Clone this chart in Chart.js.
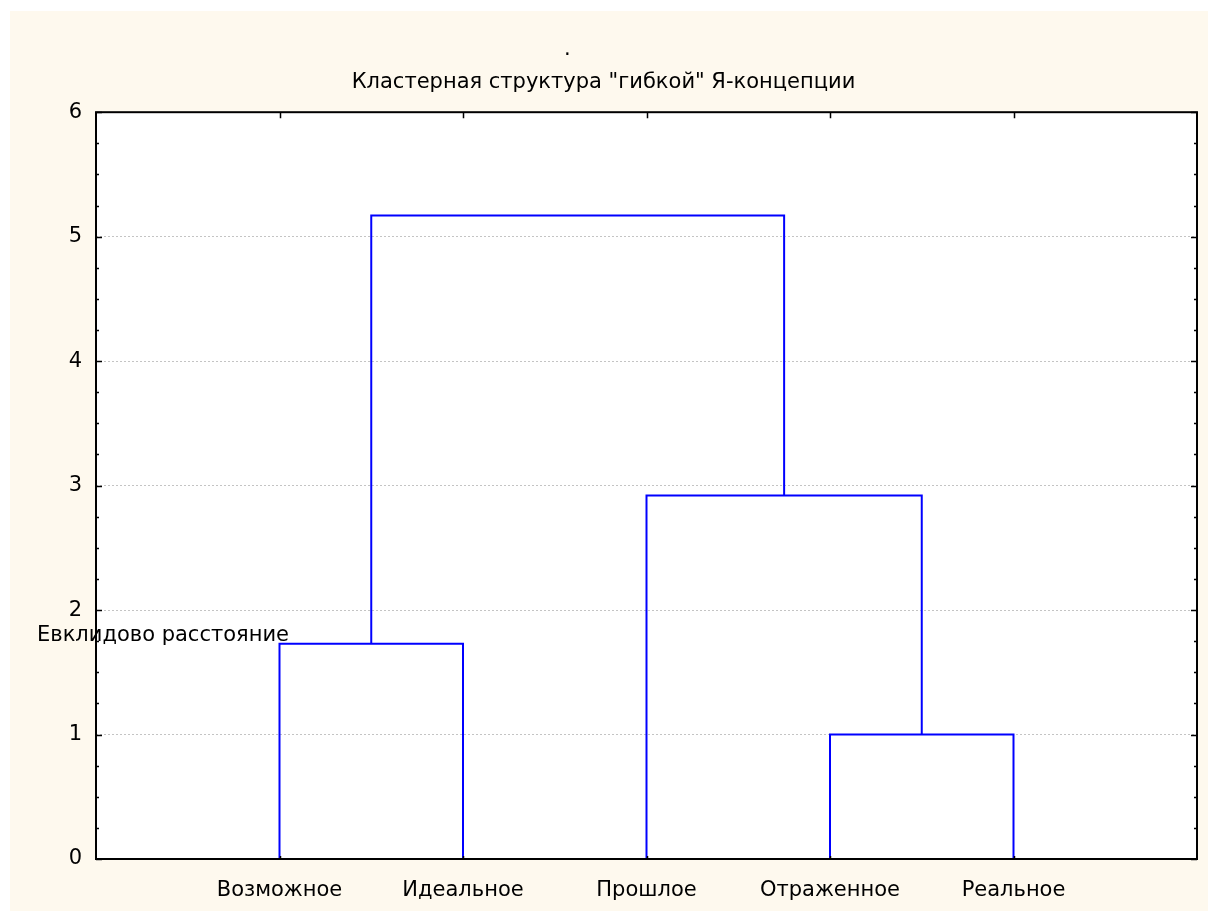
<!DOCTYPE html>
<html>
<head>
<meta charset="utf-8">
<script src="https://cdn.jsdelivr.net/npm/chart.js@4"></script>
<style>
  html, body { margin: 0; padding: 0; background: #ffffff; }
  #wrap { position: absolute; left: 10px; top: 11px; width: 1198px; height: 900px; background: #fef9ee; }
</style>
</head>
<body>
<div id="wrap"><canvas id="chart" width="1198" height="900"></canvas></div>
<script>
// leaves of the dendrogram, in drawing order
var leaves = ['Возможное', 'Идеальное', 'Прошлое', 'Отраженное', 'Реальное'];
// merge steps: clusters 0..4 are leaves, each merge makes a new cluster 5, 6, ...
var mergeA = [0, 3, 2, 5];
var mergeB = [1, 4, 6, 7];
var mergeDist = [1.73, 1.0, 2.92, 5.17];
var yTicks = [0, 1, 2, 3, 4, 5, 6];

var titleText = 'Кластерная структура "гибкой" Я-концепции';
var yLabel = 'Евклидово расстояние';
var FONT = "'DejaVu Sans', sans-serif";
var FSIZE = 21;

// x position and height of every cluster
var posX = leaves.map(function (l, i) { return i + 1; });
var posY = leaves.map(function () { return 0; });
var links = [];
for (var i = 0; i < mergeA.length; i++) {
    var a = mergeA[i], b = mergeB[i], h = mergeDist[i];
    links.push({
        data: [
            { x: posX[a], y: posY[a] },
            { x: posX[a], y: h },
            { x: posX[b], y: h },
            { x: posX[b], y: posY[b] }
        ],
        showLine: true,
        borderColor: '#0000ff',
        borderWidth: 2,
        pointRadius: 0,
        tension: 0,
        fill: false
    });
    posX.push((posX[a] + posX[b]) / 2);
    posY.push(h);
}

var decor = {
    id: 'decor',
    beforeDraw: function (chart) {
        var c = chart.ctx, a = chart.chartArea;
        c.save();
        c.fillStyle = '#ffffff';
        c.fillRect(a.left, a.top, a.right - a.left, a.bottom - a.top);
        c.restore();
    },
    afterDraw: function (chart) {
        var c = chart.ctx, a = chart.chartArea;
        var xs = chart.scales.x, ys = chart.scales.y;
        c.save();
        c.strokeStyle = '#000000';
        c.lineWidth = 2;
        c.strokeRect(a.left, a.top, a.right - a.left, a.bottom - a.top);
        c.lineWidth = 1.5;
        c.beginPath();
        // minor and major ticks on left and right, pointing inward
        for (var v = 0; v <= 6.001; v += 0.25) {
            var py = Math.round(ys.getPixelForValue(v)) + 0.5;
            var len = (Math.abs(v - Math.round(v)) < 0.01) ? 6 : 3;
            c.moveTo(a.left, py); c.lineTo(a.left + len, py);
            c.moveTo(a.right, py); c.lineTo(a.right - len, py);
        }
        // ticks at the leaf positions, top and bottom
        posX.slice(0, leaves.length).forEach(function (x) {
            var px = Math.round(xs.getPixelForValue(x)) + 0.5;
            c.moveTo(px, a.top); c.lineTo(px, a.top + 6);
            c.moveTo(px, a.bottom); c.lineTo(px, a.bottom - 3);
        });
        c.stroke();
        // small dot above the title and the axis name
        c.fillStyle = '#000000';
        c.font = FSIZE + 'px ' + FONT;
        c.textBaseline = 'alphabetic';
        c.textAlign = 'left';
        c.fillText('.', 554, 44);
        c.fillText(yLabel, 27, 630);
        c.restore();
    }
};

var ctx = document.getElementById('chart');
new Chart(ctx, {
    type: 'scatter',
    data: { datasets: links },
    plugins: [decor],
    options: {
        responsive: false,
        animation: false,
        layout: { padding: { left: 0, right: 11, top: 0, bottom: 0 } },
        plugins: {
            legend: { display: false },
            tooltip: { enabled: false },
            title: {
                display: true,
                text: titleText,
                color: '#000000',
                font: { family: FONT, size: FSIZE, weight: 'normal', lineHeight: 1.2 },
                padding: { top: 59, bottom: 17 }
            }
        },
        scales: {
            x: {
                type: 'linear',
                min: 0,
                max: 6,
                afterBuildTicks: function (scale) {
                    scale.ticks = posX.slice(0, leaves.length).map(function (v) { return { value: v }; });
                },
                afterFit: function (scale) { scale.height = 52; },
                grid: { display: false },
                border: { display: false },
                ticks: {
                    color: '#000000',
                    font: { family: FONT, size: FSIZE },
                    padding: 11,
                    maxRotation: 0,
                    callback: function (value, index) { return leaves[index]; }
                }
            },
            y: {
                type: 'linear',
                min: 0,
                max: 6,
                afterBuildTicks: function (scale) {
                    scale.ticks = yTicks.map(function (v) { return { value: v }; });
                },
                afterFit: function (scale) { scale.width = 86; },
                grid: {
                    drawTicks: false,
                    lineWidth: 1,
                    color: function (c) {
                        var v = c.tick ? c.tick.value : 0;
                        return (v === 0 || v === 6) ? 'rgba(0,0,0,0)' : '#c4c4c4';
                    }
                },
                border: { display: false, dash: [2, 2] },
                ticks: {
                    color: '#000000',
                    font: { family: FONT, size: FSIZE },
                    padding: 14
                }
            }
        }
    }
});
</script>
</body>
</html>
